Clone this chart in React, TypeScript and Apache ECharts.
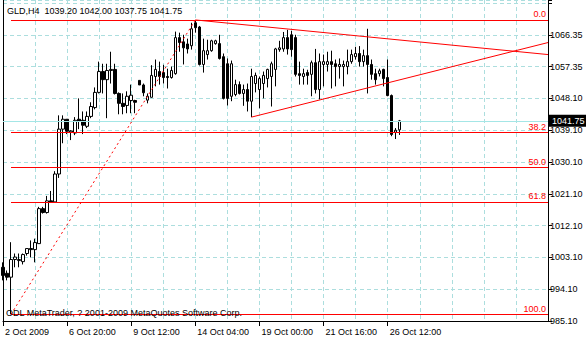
import React, { useEffect, useRef } from "react";
import * as echarts from "echarts";

const symbolName = "GLD,H4";
const copyright = "ODL MetaTrader, ? 2001-2009 MetaQuotes Software Corp.";

// OHLC of the H4 bars
const opens = [
  1000.3, 998.6, 997.5, 1002.5, 1002.2, 1001.9, 1004.2, 1005.6, 1005.3, 1007.0,
  1016.9, 1015.8, 1019.1, 1018.8, 1026.7, 1039.4, 1042.2, 1038.6, 1038.3, 1042.2,
  1041.9, 1040.2, 1043.0, 1045.5, 1049.8, 1055.7, 1053.4, 1056.0, 1056.3, 1049.5,
  1046.7, 1046.1, 1047.5, 1047.5, 1053.2, 1051.9, 1047.6, 1048.4, 1054.3, 1055.7,
  1055.4, 1054.3, 1054.0, 1055.1, 1065.3, 1064.1, 1063.5, 1063.0, 1069.5, 1068.3,
  1057.7, 1060.5, 1061.6, 1063.6, 1063.6, 1059.9, 1057.9, 1048.7, 1049.2, 1052.0,
  1049.5, 1050.6, 1047.3, 1052.3, 1050.6, 1052.3, 1053.7, 1054.3, 1056.3, 1061.9,
  1062.1, 1065.3, 1066.1, 1065.3, 1055.1, 1054.3, 1055.4, 1054.9, 1058.2, 1050.6,
  1057.7, 1057.7, 1058.5, 1057.9, 1057.1, 1057.1, 1057.1, 1058.5, 1059.9, 1060.8,
  1058.5, 1060.2, 1057.7, 1055.1, 1055.1, 1056.3, 1054.0, 1048.9, 1038.5, 1039.2,
];
const closes = [
  998.0, 997.5, 1002.5, 1003.2, 1002.5, 1003.9, 1005.6, 1005.3, 1007.3, 1016.9,
  1015.8, 1019.1, 1018.8, 1026.7, 1039.4, 1042.2, 1038.8, 1038.9, 1041.9, 1041.6,
  1040.5, 1043.0, 1045.8, 1049.8, 1055.7, 1053.4, 1056.0, 1056.3, 1049.5, 1046.7,
  1045.8, 1048.7, 1049.0, 1047.0, 1051.9, 1049.7, 1048.7, 1054.6, 1056.3, 1054.3,
  1054.0, 1054.0, 1056.0, 1065.3, 1063.9, 1062.4, 1062.1, 1067.8, 1068.1, 1057.7,
  1061.6, 1061.6, 1064.4, 1064.4, 1059.4, 1048.1, 1048.1, 1057.9, 1052.0, 1049.5,
  1050.6, 1047.3, 1054.3, 1054.6, 1053.7, 1054.6, 1056.3, 1057.9, 1062.1, 1062.4,
  1065.3, 1062.1, 1061.9, 1054.9, 1054.6, 1055.1, 1054.6, 1058.2, 1050.6, 1058.5,
  1058.5, 1058.5, 1057.7, 1057.1, 1057.7, 1057.7, 1058.5, 1060.5, 1060.8, 1058.5,
  1060.2, 1057.7, 1054.9, 1053.4, 1055.9, 1053.7, 1048.9, 1037.9, 1039.1, 1041.75,
];
const lows = [
  996.6, 996.6, 987.0, 1000.3, 1000.3, 1001.1, 1003.6, 1003.1, 1001.7, 1007.0,
  1015.5, 1015.5, 1018.5, 1018.5, 1025.6, 1035.4, 1038.0, 1036.3, 1037.7, 1039.4,
  1038.0, 1039.7, 1042.5, 1045.0, 1049.5, 1049.5, 1042.5, 1052.3, 1049.2, 1043.6,
  1043.6, 1043.9, 1043.9, 1043.9, 1051.9, 1048.7, 1046.7, 1048.4, 1051.5, 1052.0,
  1052.3, 1050.9, 1053.7, 1054.8, 1061.3, 1057.7, 1060.8, 1061.9, 1066.7, 1057.4,
  1055.4, 1059.1, 1061.3, 1063.3, 1059.1, 1047.8, 1046.1, 1047.3, 1048.7, 1049.2,
  1046.0, 1044.4, 1042.8, 1049.8, 1045.3, 1048.1, 1051.2, 1045.8, 1051.5, 1061.3,
  1061.3, 1060.5, 1059.9, 1054.3, 1052.0, 1052.0, 1052.0, 1048.7, 1049.5, 1047.8,
  1051.5, 1055.7, 1050.9, 1051.5, 1053.7, 1051.5, 1054.9, 1057.9, 1059.1, 1057.1,
  1057.1, 1049.5, 1053.4, 1052.0, 1054.3, 1051.5, 1048.7, 1037.4, 1036.6, 1037.75,
];
const highs = [
  1001.7, 999.4, 1007.4, 1004.2, 1004.2, 1004.2, 1005.6, 1007.9, 1008.4, 1017.4,
  1017.4, 1020.5, 1021.9, 1027.5, 1043.3, 1043.3, 1042.2, 1039.1, 1042.8, 1048.1,
  1044.4, 1044.4, 1047.0, 1051.2, 1058.5, 1057.9, 1057.9, 1061.3, 1057.9, 1049.8,
  1049.5, 1050.1, 1052.0, 1047.7, 1053.2, 1052.3, 1049.5, 1057.5, 1059.1, 1058.5,
  1057.6, 1056.5, 1057.1, 1067.0, 1066.7, 1066.1, 1065.0, 1069.5, 1070.3, 1068.6,
  1065.0, 1064.7, 1064.7, 1064.7, 1066.1, 1060.8, 1059.4, 1058.8, 1053.4, 1052.9,
  1052.0, 1052.3, 1056.5, 1055.4, 1054.3, 1055.7, 1056.5, 1058.5, 1062.4, 1064.4,
  1066.9, 1067.5, 1067.2, 1066.1, 1058.5, 1056.5, 1056.2, 1058.8, 1062.1, 1060.8,
  1060.5, 1061.3, 1061.6, 1059.1, 1059.4, 1058.8, 1061.9, 1061.9, 1062.7, 1062.9,
  1061.9, 1067.8, 1059.1, 1056.5, 1056.5, 1056.5, 1059.1, 1049.2, 1039.7, 1042.0,
];
const futureSlots = 37;

const xTickLabels = [
  "2 Oct 2009", "6 Oct 20:00", "9 Oct 12:00", "14 Oct 04:00",
  "19 Oct 00:00", "21 Oct 16:00", "26 Oct 12:00",
];
const xTickStep = 16;

const yTickLabels = [
  "985.10", "994.10", "1003.10", "1012.10", "1021.10",
  "1030.10", "1039.10", "1048.10", "1057.35", "1066.35",
];
const yMin = 985.1;
const yStep = 9;

const fibLevels = [0, 38.2, 50, 61.8, 100];
const fibLowIndex = 2;
const fibHighIndex = 48;

const upperTrendIdx = [48, 136];
const upperTrendVal = [1070.3, 1060.5];
const lowerTrendIdx = [62, 136];
const lowerTrendVal = [1042.8, 1063.9];

const FONT = "'Liberation Sans', Arial, sans-serif";
const RED = "#ff0000";
const GRID = "#acdede";
const CYAN = "#a4e6e6";

export default function App() {
  const ref = useRef<HTMLDivElement>(null);
  useEffect(() => {
    if (!ref.current) return;
    const chart = echarts.init(ref.current, null, { renderer: "svg" });
    const n = opens.length + futureSlots;
    const categories = Array.from({ length: n }, (_, i) => String(i));
    const labelAt = (i: number) =>
      i % xTickStep === 0 && i / xTickStep < xTickLabels.length ? xTickLabels[i / xTickStep] : "";
    const candles = opens.map((o, i) => [o, closes[i], lows[i], highs[i]]);
    const last = opens.length - 1;
    const fibHigh = highs[fibHighIndex];
    const fibLow = lows[fibLowIndex];
    const lastCat = categories[n - 1];

    const pxPerUnit = 32 / yStep;
    const gridTop = -2;
    const axisY = 321;
    const yMax = yMin + (axisY - gridTop) / pxPerUnit;

    const fibLines = fibLevels.map((p) => {
      const v = fibHigh - ((fibHigh - fibLow) * p) / 100;
      return [
        {
          coord: [categories[fibLowIndex], v],
          lineStyle: { color: RED, width: 1, type: "solid" },
          label: {
            show: true,
            position: "insideEndTop",
            formatter: p.toFixed(1),
            color: RED,
            fontSize: 9,
            fontFamily: FONT,
            distance: [2, 1],
          },
        },
        { coord: [lastCat, v] },
      ];
    });

    const seg = (i0: number, v0: number, i1: number, v1: number, type: any) => [
      {
        coord: [categories[i0], v0],
        lineStyle: { color: RED, width: 1, type },
        label: { show: false },
      },
      { coord: [categories[i1], v1] },
    ];

    const header = `${symbolName}  ${opens[last].toFixed(2)} ${highs[last].toFixed(2)} ${lows[last].toFixed(2)} ${closes[last].toFixed(2)}`;

    chart.setOption({
      animation: false,
      backgroundColor: "#ffffff",
      grid: { left: 3, right: 38, top: gridTop, bottom: 340 - axisY },
      xAxis: {
        type: "category",
        data: categories,
        boundaryGap: false,
        axisLine: { show: true, lineStyle: { color: "#000", width: 1 } },
        axisTick: {
          show: true,
          length: 5,
          interval: (i: number) => labelAt(i) !== "",
          lineStyle: { color: "#000" },
        },
        axisLabel: {
          show: true,
          interval: (i: number) => labelAt(i) !== "",
          formatter: (_v: string, i: number) => labelAt(i),
          align: "left",
          padding: [0, 0, 0, 2],
          margin: 6,
          color: "#000",
          fontSize: 9,
          fontFamily: FONT,
        },
        splitLine: { show: true, interval: 7, lineStyle: { color: GRID, type: [4, 3], width: 1 } },
      },
      yAxis: [
        {
          type: "value",
          position: "right",
          min: yMin,
          max: yMax,
          interval: yStep,
          axisLine: { show: true, lineStyle: { color: "#000", width: 1 } },
          axisTick: { show: true, length: 4, lineStyle: { color: "#000" } },
          axisLabel: {
            show: true,
            margin: 2,
            color: "#000",
            fontSize: 9,
            fontFamily: FONT,
            formatter: (v: number) => {
              const k = Math.round((v - yMin) / yStep);
              return Math.abs(v - (yMin + k * yStep)) < 0.01 && k >= 0 && k < yTickLabels.length
                ? yTickLabels[k]
                : "";
            },
          },
          splitLine: { show: true, lineStyle: { color: GRID, type: [4, 3], width: 1 } },
        },
        {
          type: "value",
          position: "left",
          min: yMin,
          max: yMax,
          interval: yStep,
          axisLine: { show: true, lineStyle: { color: "#000", width: 1 } },
          axisTick: { show: false },
          axisLabel: { show: false },
          splitLine: { show: false },
        },
      ],
      graphic: [
        {
          type: "text",
          left: 7,
          top: 6,
          z: 10,
          style: { text: header, fill: "#000", fontSize: 9, fontFamily: FONT },
        },
        {
          type: "text",
          left: 6,
          top: 308,
          z: 10,
          style: { text: copyright, fill: "#000", fontSize: 9, fontFamily: FONT },
        },
      ],
      series: [
        {
          type: "candlestick",
          yAxisIndex: 0,
          data: candles,
          barWidth: 3,
          itemStyle: {
            color: "#ffffff",
            color0: "#000000",
            borderColor: "#000000",
            borderColor0: "#000000",
            borderWidth: 1,
          },
          markLine: {
            silent: true,
            symbol: ["none", "none"],
            animation: false,
            data: [
              {
                yAxis: closes[last],
                lineStyle: { color: CYAN, width: 1, type: "solid" },
                label: {
                  show: true,
                  position: "end",
                  formatter: closes[last].toFixed(2),
                  backgroundColor: "#000",
                  color: "#fff",
                  padding: [2, 3, 1, 3],
                  fontSize: 9,
                  fontFamily: FONT,
                  distance: 1,
                },
              },
              ...fibLines,
              seg(fibLowIndex, fibLow, fibHighIndex, fibHigh, [2, 3]),
              seg(upperTrendIdx[0], upperTrendVal[0], upperTrendIdx[1], upperTrendVal[1], "solid"),
              seg(lowerTrendIdx[0], lowerTrendVal[0], lowerTrendIdx[1], lowerTrendVal[1], "solid"),
            ],
          },
        },
      ],
    });
    return () => chart.dispose();
  }, []);
  return (
    <div
      ref={ref}
      style={{ position: "fixed", left: 0, top: 0, width: 586, height: 340, background: "#fff" }}
    />
  );
}
